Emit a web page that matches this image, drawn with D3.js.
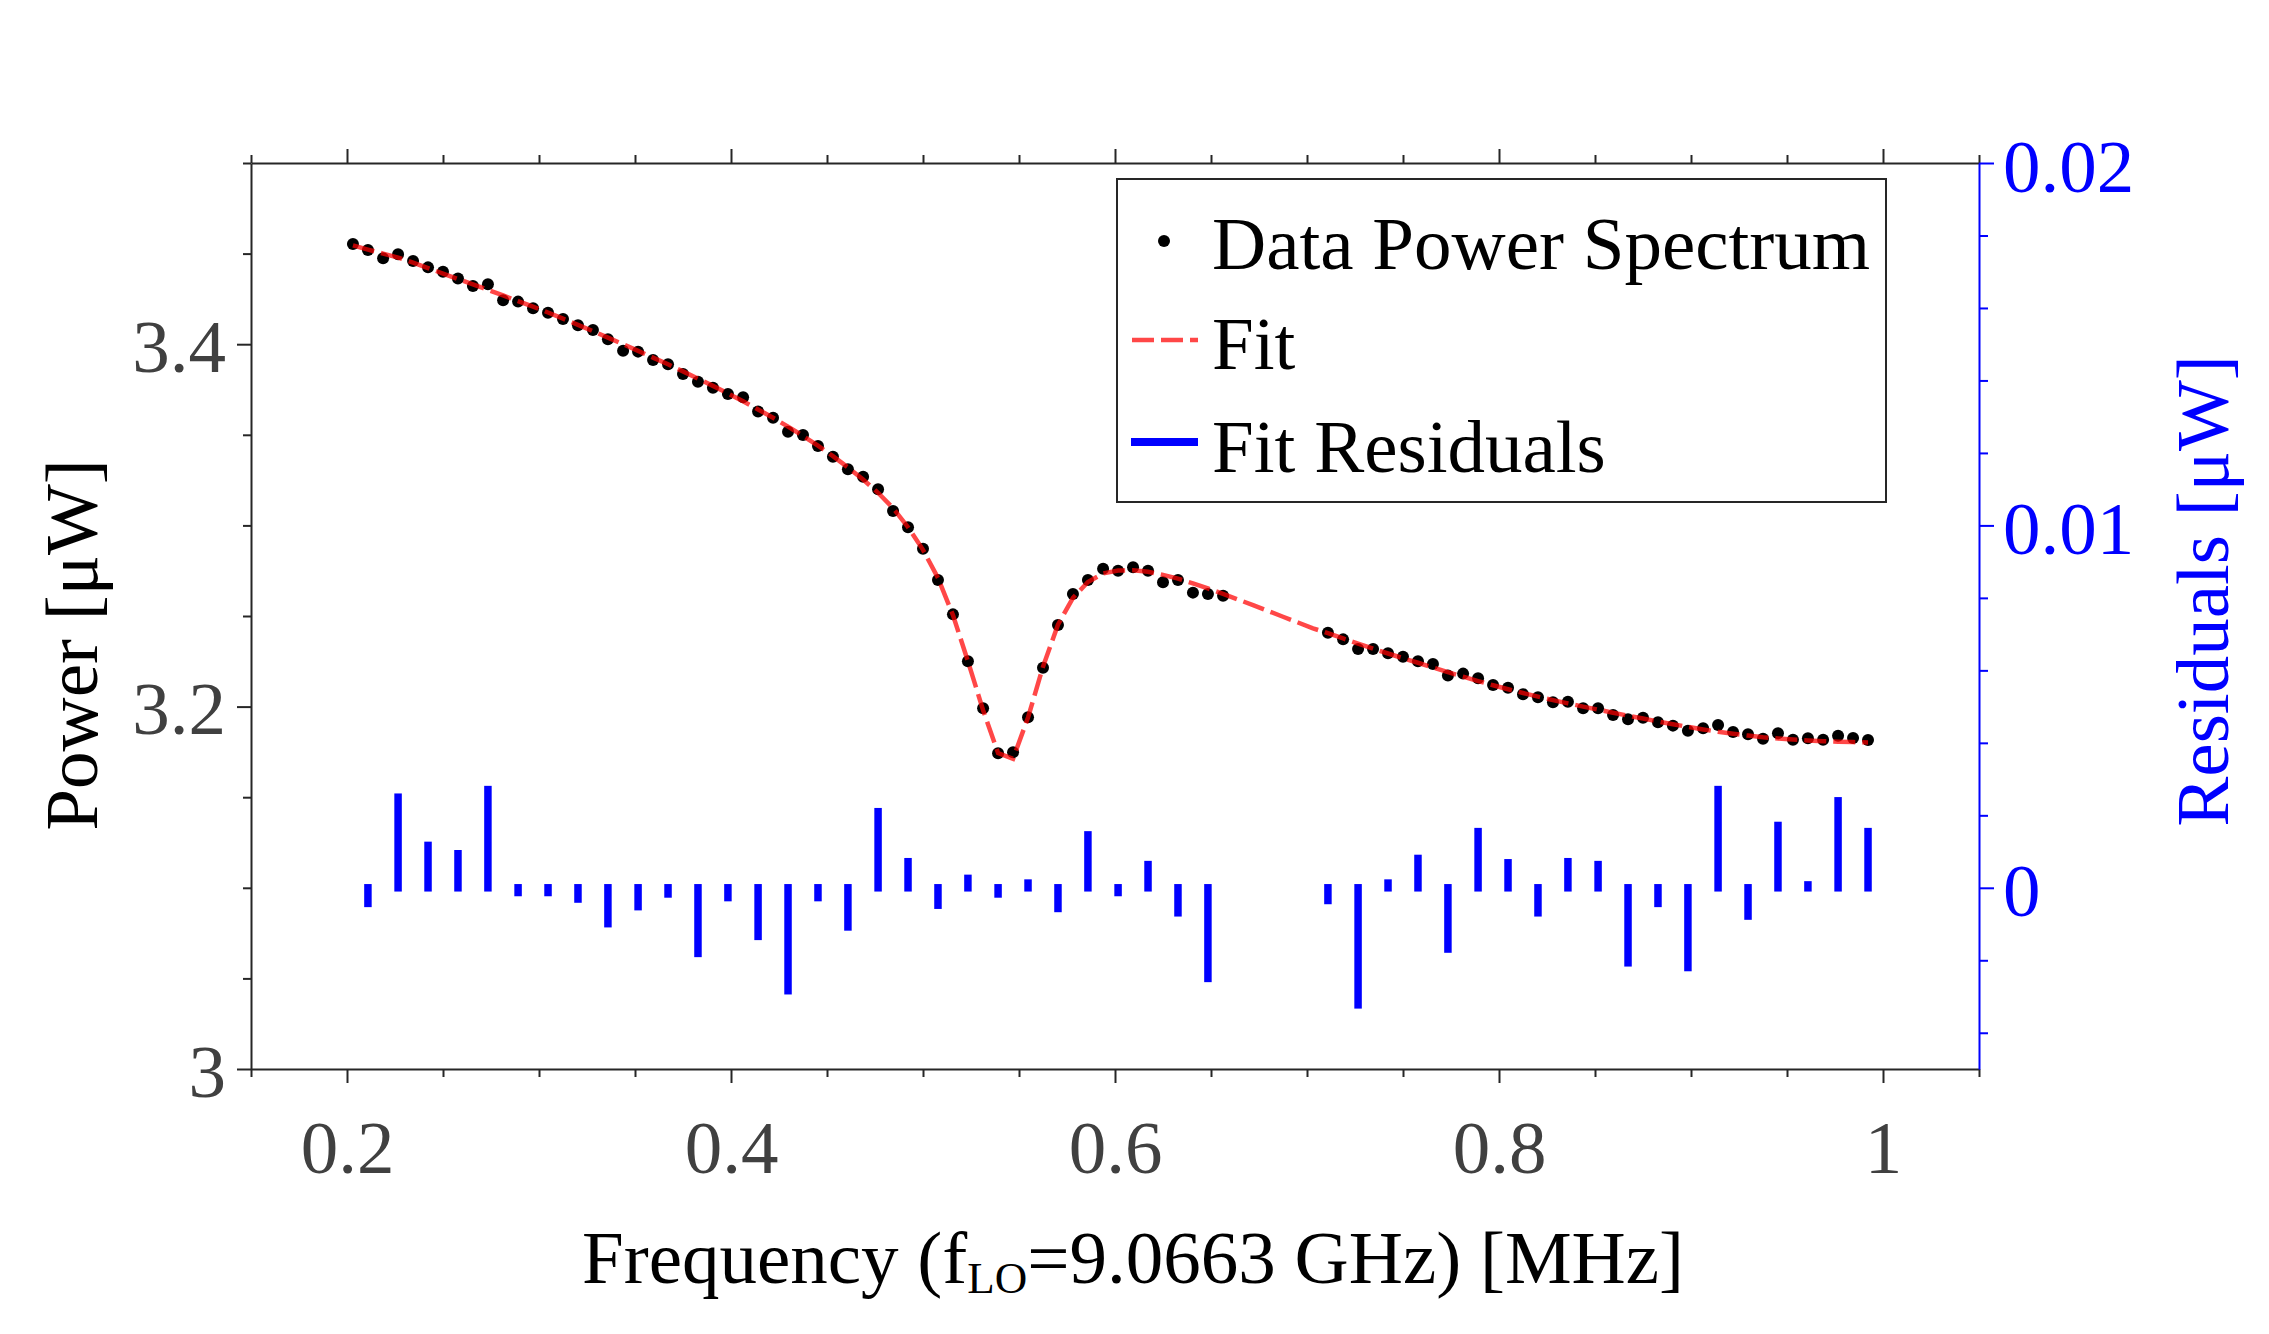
<!DOCTYPE html>
<html>
<head>
<meta charset="utf-8">
<script src="https://cdn.jsdelivr.net/npm/d3@7"></script>
<style>
  body { margin: 0; background: #fff; }
  svg text { font-family: "Liberation Serif", "Times New Roman", serif; }
</style>
</head>
<body>
<div id="chart"></div>
<script>
// measured data: frequency in MHz, power in uW
var dataFreq = [0.2031,0.2109,0.2188,0.2266,0.2344,0.2422,0.2500,0.2578,0.2656,0.2734,
  0.2813,0.2891,0.2969,0.3047,0.3125,0.3203,0.3281,0.3359,0.3438,0.3516,
  0.3594,0.3672,0.3750,0.3828,0.3906,0.3984,0.4063,0.4141,0.4219,0.4297,
  0.4375,0.4453,0.4531,0.4609,0.4688,0.4766,0.4844,0.4922,0.5000,0.5078,
  0.5156,0.5234,0.5313,0.5391,0.5469,0.5547,0.5625,0.5703,0.5781,0.5859,
  0.5938,0.6016,0.6094,0.6172,0.6250,0.6328,0.6406,0.6484,0.6563,
  0.7109,0.7188,0.7266,0.7344,0.7422,0.7500,0.7578,0.7656,0.7734,0.7813,
  0.7891,0.7969,0.8047,0.8125,0.8203,0.8281,0.8359,0.8438,0.8516,0.8594,
  0.8672,0.8750,0.8828,0.8906,0.8984,0.9063,0.9141,0.9219,0.9297,0.9375,
  0.9453,0.9531,0.9609,0.9688,0.9766,0.9844,0.9922];
var dataPower = [3.4553,3.4520,3.4474,3.4496,3.4459,3.4424,3.4400,3.4362,3.4321,3.4331,
  3.4242,3.4235,3.4198,3.4174,3.4139,3.4104,3.4078,3.4027,3.3964,3.3959,
  3.3913,3.3889,3.3836,3.3793,3.3760,3.3725,3.3707,3.3628,3.3594,3.3517,
  3.3499,3.3438,3.3379,3.3310,3.3269,3.3199,3.3079,3.2990,3.2871,3.2699,
  3.2509,3.2250,3.1991,3.1742,3.1748,3.1941,3.2215,3.2450,3.2621,3.2699,
  3.2761,3.2750,3.2769,3.2750,3.2686,3.2699,3.2629,3.2621,3.2612,
  3.2408,3.2371,3.2318,3.2318,3.2294,3.2275,3.2250,3.2235,3.2171,3.2182,
  3.2156,3.2119,3.2104,3.2068,3.2051,3.2024,3.2027,3.1991,3.1991,3.1954,
  3.1930,3.1939,3.1913,3.1895,3.1867,3.1880,3.1898,3.1860,3.1847,3.1823,
  3.1853,3.1817,3.1825,3.1817,3.1839,3.1827,3.1816];

// fit curve
var fitFreq = [0.2031,0.2109,0.2188,0.2266,0.2344,0.2422,0.2500,0.2578,0.2656,0.2734,
  0.2813,0.2891,0.2969,0.3047,0.3125,0.3203,0.3281,0.3359,0.3438,0.3516,
  0.3594,0.3672,0.3750,0.3828,0.3906,0.3984,0.4063,0.4141,0.4219,0.4297,
  0.4375,0.4453,0.4531,0.4609,0.4688,0.4766,0.4844,0.4922,0.5000,0.5078,
  0.5156,0.5234,0.5313,0.5391,0.5469,0.5547,0.5625,0.5703,0.5781,0.5859,
  0.5938,0.6016,0.6094,0.6172,0.6250,0.6328,0.6406,0.6484,0.6563,0.6641,
  0.6719,0.6797,0.6875,0.6953,0.7031,0.7109,0.7188,0.7266,0.7344,0.7422,
  0.7500,0.7578,0.7656,0.7734,0.7813,0.7891,0.7969,0.8047,0.8125,0.8203,
  0.8281,0.8359,0.8438,0.8516,0.8594,0.8672,0.8750,0.8828,0.8906,0.8984,
  0.9063,0.9141,0.9219,0.9297,0.9375,0.9453,0.9531,0.9609,0.9688,0.9766,
  0.9844,0.9922];
var fitPower = [3.4545,3.4522,3.4500,3.4478,3.4450,3.4420,3.4390,3.4360,3.4330,3.4300,
  3.4269,3.4238,3.4207,3.4175,3.4141,3.4107,3.4072,3.4036,3.4000,3.3963,
  3.3926,3.3889,3.3850,3.3810,3.3770,3.3728,3.3685,3.3640,3.3594,3.3545,
  3.3494,3.3440,3.3382,3.3320,3.3253,3.3180,3.3095,3.2990,3.2865,3.2710,
  3.2505,3.2250,3.1980,3.1744,3.1712,3.1940,3.2220,3.2452,3.2600,3.2688,
  3.2735,3.2751,3.2752,3.2744,3.2727,3.2706,3.2680,3.2652,3.2622,3.2591,
  3.2560,3.2528,3.2496,3.2464,3.2432,3.2405,3.2376,3.2348,3.2320,3.2293,
  3.2267,3.2242,3.2216,3.2190,3.2165,3.2141,3.2118,3.2096,3.2075,3.2055,
  3.2036,3.2018,3.2000,3.1983,3.1966,3.1950,3.1934,3.1918,3.1903,3.1888,
  3.1874,3.1861,3.1850,3.1840,3.1831,3.1824,3.1818,3.1813,3.1809,3.1806,
  3.1804,3.1802];

// residuals (right axis, uW)
var residFreq = [0.2109,0.2266,0.2422,0.2578,0.2734,0.2891,0.3047,0.3203,0.3359,0.3516,
  0.3672,0.3828,0.3984,0.4141,0.4297,0.4453,0.4609,0.4766,0.4922,0.5078,
  0.5234,0.5391,0.5547,0.5703,0.5859,0.6016,0.6172,0.6328,0.6484,
  0.7109,0.7266,0.7422,0.7578,0.7734,0.7891,0.8047,0.8203,0.8359,0.8516,
  0.8672,0.8828,0.8984,0.9141,0.9297,0.9453,0.9609,0.9766,0.9922];
var residValue = [-0.00043,0.00250,0.00117,0.00094,0.00271,-0.00013,-0.00013,-0.00031,-0.00099,-0.00052,
  -0.00017,-0.00181,-0.00027,-0.00134,-0.00284,-0.00027,-0.00108,0.00210,0.00072,-0.00048,
  0.00026,-0.00017,0.00013,-0.00057,0.00146,-0.00013,0.00064,-0.00069,-0.00250,
  -0.00035,-0.00323,0.00013,0.00081,-0.00169,0.00155,0.00069,-0.00069,0.00072,0.00064,
  -0.00207,-0.00043,-0.00220,0.00271,-0.00078,0.00172,0.00008,0.00240,0.00155];

// ticks
var xMajor = [0.2, 0.4, 0.6, 0.8, 1];
var xMajorLabels = ["0.2", "0.4", "0.6", "0.8", "1"];
var xMinor = [0.15, 0.25, 0.3, 0.35, 0.45, 0.5, 0.55, 0.65, 0.7, 0.75, 0.85, 0.9, 0.95, 1.05];
var yMajor = [3, 3.2, 3.4];
var yMajorLabels = ["3", "3.2", "3.4"];
var yMinor = [3.05, 3.1, 3.15, 3.25, 3.3, 3.35, 3.45, 3.5];
var rMajor = [0, 0.01, 0.02];
var rMajorLabels = ["0", "0.01", "0.02"];
var rMinor = [-0.004, -0.002, 0.002, 0.004, 0.006, 0.008, 0.012, 0.014, 0.016, 0.018];

var legendLabels = ["Data Power Spectrum", "Fit", "Fit Residuals"];

var width = 2269, height = 1334;
var plotLeft = 251, plotRight = 1979, plotTop = 163, plotBottom = 1069;
var axisColor = "#262626", tickTextColor = "#404040";
var blue = "#0000ff";

var svg = d3.select("#chart").append("svg")
    .attr("width", width)
    .attr("height", height);

var x = d3.scaleLinear().domain([0.15, 1.05]).range([plotLeft, plotRight]);
var y = d3.scaleLinear().domain([3, 3.5]).range([plotBottom, plotTop]);
var yRes = d3.scaleLinear().domain([-0.005, 0.02]).range([plotBottom, plotTop]);

function styleAxis(g, color) {
    g.selectAll("line").attr("stroke", color).attr("stroke-width", 2);
    g.selectAll("path").attr("stroke", color).attr("stroke-width", 2);
    g.selectAll("text").style("font-size", "75px");
}

// bottom axis
var gb = svg.append("g").attr("transform", "translate(0," + plotBottom + ")")
    .call(d3.axisBottom(x).tickValues(xMajor).tickFormat(function(d, i){ return xMajorLabels[i]; })
        .tickSize(14).tickSizeOuter(0));
styleAxis(gb, axisColor);
gb.selectAll("text").attr("y", 104).attr("dy", null).attr("fill", tickTextColor);
var gbm = svg.append("g").attr("transform", "translate(0," + plotBottom + ")")
    .call(d3.axisBottom(x).tickValues(xMinor).tickFormat("").tickSize(8).tickSizeOuter(0));
gbm.select(".domain").remove();
styleAxis(gbm, axisColor);

// top axis
var gt = svg.append("g").attr("transform", "translate(0," + plotTop + ")")
    .call(d3.axisTop(x).tickValues(xMajor).tickFormat("").tickSize(14).tickSizeOuter(0));
styleAxis(gt, axisColor);
var gtm = svg.append("g").attr("transform", "translate(0," + plotTop + ")")
    .call(d3.axisTop(x).tickValues(xMinor).tickFormat("").tickSize(8).tickSizeOuter(0));
gtm.select(".domain").remove();
styleAxis(gtm, axisColor);

// left axis
var gl = svg.append("g").attr("transform", "translate(" + plotLeft + ",0)")
    .call(d3.axisLeft(y).tickValues(yMajor).tickFormat(function(d, i){ return yMajorLabels[i]; })
        .tickSize(14).tickPadding(11).tickSizeOuter(0));
styleAxis(gl, axisColor);
gl.selectAll("text").attr("y", 27).attr("dy", null).attr("fill", tickTextColor);
var glm = svg.append("g").attr("transform", "translate(" + plotLeft + ",0)")
    .call(d3.axisLeft(y).tickValues(yMinor).tickFormat("").tickSize(8).tickSizeOuter(0));
glm.select(".domain").remove();
styleAxis(glm, axisColor);

// right axis (residuals)
var gr = svg.append("g").attr("transform", "translate(" + plotRight + ",0)")
    .call(d3.axisRight(yRes).tickValues(rMajor).tickFormat(function(d, i){ return rMajorLabels[i]; })
        .tickSize(15).tickPadding(9).tickSizeOuter(0));
styleAxis(gr, blue);
gr.selectAll("text").attr("y", 28).attr("dy", null).attr("fill", blue);
var grm = svg.append("g").attr("transform", "translate(" + plotRight + ",0)")
    .call(d3.axisRight(yRes).tickValues(rMinor).tickFormat("").tickSize(9).tickSizeOuter(0));
grm.select(".domain").remove();
styleAxis(grm, blue);

// residual bars
svg.append("g").selectAll("line")
    .data(residValue)
    .enter()
    .append("line")
    .attr("x1", function(d, i){ return x(residFreq[i]); })
    .attr("x2", function(d, i){ return x(residFreq[i]); })
    .attr("y1", yRes(0))
    .attr("y2", function(d){ return yRes(d); })
    .attr("stroke", blue)
    .attr("stroke-width", 7.5)
    .attr("stroke-linecap", "square");

// data points
svg.append("g").selectAll("circle")
    .data(dataPower)
    .enter()
    .append("circle")
    .attr("cx", function(d, i){ return x(dataFreq[i]); })
    .attr("cy", function(d){ return y(d); })
    .attr("r", 6)
    .attr("fill", "black");

// fit line
var fitLine = d3.line()
    .x(function(d, i){ return x(fitFreq[i]); })
    .y(function(d){ return y(d); });
svg.append("path")
    .datum(fitPower)
    .attr("d", fitLine)
    .attr("fill", "none")
    .attr("stroke", "#ff0000")
    .attr("stroke-opacity", 0.72)
    .attr("stroke-width", 4.5)
    .attr("stroke-dasharray", "22,7");

// legend
var lg = svg.append("g");
lg.append("rect")
    .attr("x", 1117).attr("y", 179)
    .attr("width", 769).attr("height", 323)
    .attr("fill", "white")
    .attr("stroke", axisColor)
    .attr("stroke-width", 2);
lg.append("circle").attr("cx", 1164).attr("cy", 241).attr("r", 6).attr("fill", "black");
lg.append("line")
    .attr("x1", 1132).attr("x2", 1198).attr("y1", 340).attr("y2", 340)
    .attr("stroke", "#ff0000").attr("stroke-opacity", 0.72)
    .attr("stroke-width", 4.5).attr("stroke-dasharray", "22,7");
lg.append("line")
    .attr("x1", 1131).attr("x2", 1198).attr("y1", 442).attr("y2", 442)
    .attr("stroke", blue).attr("stroke-width", 8);
lg.selectAll("text")
    .data(legendLabels)
    .enter()
    .append("text")
    .attr("x", 1212)
    .attr("y", function(d, i){ return [269, 369, 472][i]; })
    .style("font-size", "75px")
    .attr("fill", "black")
    .text(function(d){ return d; });

// axis titles
svg.append("text")
    .attr("transform", "translate(97,645) rotate(-90)")
    .attr("text-anchor", "middle")
    .style("font-size", "75px")
    .attr("fill", "black")
    .text("Power [\u03bcW]");

svg.append("text")
    .attr("transform", "translate(2228,591) rotate(-90)")
    .attr("text-anchor", "middle")
    .style("font-size", "75px")
    .attr("fill", blue)
    .text("Residuals [\u03bcW]");

var xt = svg.append("text")
    .attr("x", 582)
    .attr("y", 1283)
    .style("font-size", "75px")
    .attr("fill", "black");
xt.append("tspan").text("Frequency (f");
xt.append("tspan").attr("dy", 10).style("font-size", "45px").text("LO");
xt.append("tspan").attr("dy", -10).text("=9.0663 GHz) [MHz]");
</script>
</body>
</html>
